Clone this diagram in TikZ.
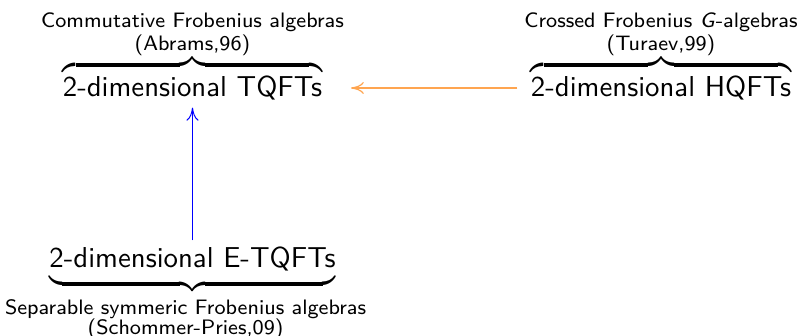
\documentclass[tikz,border=0pt]{standalone}
\usepackage{graphicx}
\usetikzlibrary{arrows.meta}
\renewcommand{\familydefault}{\sfdefault}
% label block: #1 baselineskip, #2 lines separated by \cr
\newcommand{\lblbox}[2]{\vbox{\fontsize{7.25}{#1}\selectfont\lineskiplimit=0pt\lineskip=1pt
  \halign{\hfil##\hfil\cr#2\crcr}}}
% brace over: #1 main text, #2 label, #3 kern label-brace, #4 kern brace-text
\newcommand{\famover}[4]{\scalebox{1.44}{\setbox0\hbox{\normalsize #1}%
  \vbox{\offinterlineskip\halign{\hfil##\hfil\cr
    \lblbox{8.1pt}{#2}\cr
    \noalign{\kern#3}
    \hbox to\wd0{\downbracefill}\cr
    \noalign{\kern#4}
    \copy0\cr}}}}
% brace under
\newcommand{\famunder}[4]{\scalebox{1.44}{\setbox0\hbox{\normalsize #1}%
  \vtop{\offinterlineskip\halign{\hfil##\hfil\cr
    \copy0\cr
    \noalign{\kern#4}
    \hbox to\wd0{\upbracefill}\cr
    \noalign{\kern#3}
    \hbox{\lblbox{6.95pt}{#2}\kern4.8pt}\cr}}}}
\definecolor{arrorange}{RGB}{255,165,80}
\tikzset{
  fam/.style={inner sep=3.33pt, anchor=base, font=\sffamily},
  hqarrow/.style={-{To[length=6.5pt,width=6pt]}, draw=arrorange, line width=0.6pt},
  etarrow/.style={-{To[length=6.5pt,width=6pt]}, draw=blue, line width=0.5pt}
}
\begin{document}
\begin{tikzpicture}[x=0.5pt, y=-0.5pt]
\useasboundingbox (0,0) rectangle (803,336);
\node[fam] (tqft) at (192.5,97)
  {\famover{2-dimensional TQFTs}{Commutative Frobenius algebras\cr(Abrams,96)}{2.5pt}{3.4pt}};
\node[fam] (hqft) at (661,97)
  {\famover{2-dimensional HQFTs}{Crossed Frobenius \textsl{G}-algebras\cr(Turaev,99)}{2.5pt}{3.4pt}};
\node[fam] (etqft) at (192.5,268)
  {\famunder{2-dimensional E-TQFTs}{Separable symmeric Frobenius algebras\cr(Schommer-Pries,09)}{4.8pt}{3.7pt}};
\draw[hqarrow] ([yshift=4.5pt]hqft.base west) -- ([yshift=4.5pt]tqft.base east);
\draw[etarrow] (etqft.north) -- (tqft.south);
\end{tikzpicture}
\end{document}
